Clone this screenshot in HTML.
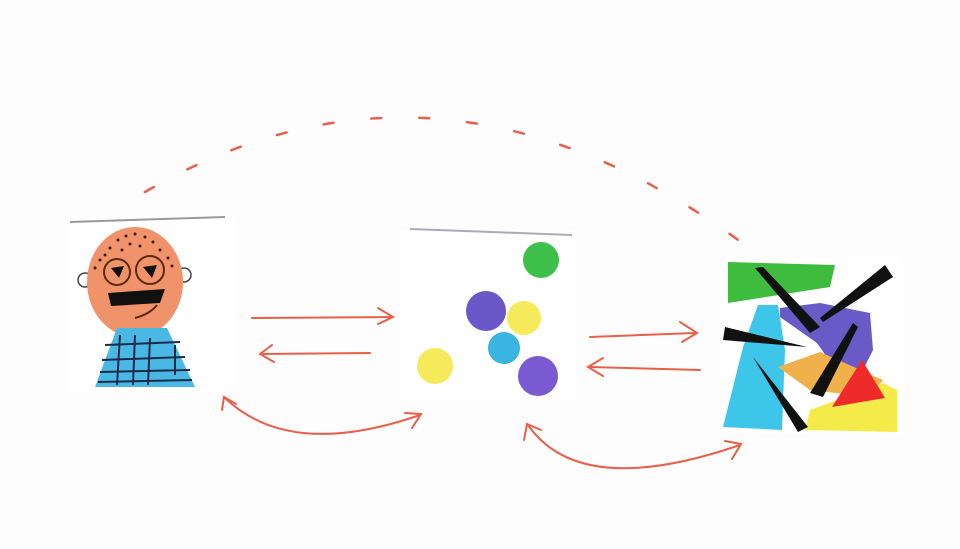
<!DOCTYPE html>
<html><head><style>html,body{margin:0;padding:0;background:#fff}svg{display:block}</style></head>
<body>
<svg width="960" height="549" viewBox="0 0 960 549" xmlns="http://www.w3.org/2000/svg">
<rect width="960" height="549" fill="#fdfdfd"/>
<!-- face card -->
<rect x="68" y="220" width="168" height="172" fill="#fff"/>
<line x1="70" y1="222" x2="225" y2="217" stroke="#999" stroke-width="2"/>
<circle cx="85" cy="280" r="7" fill="none" stroke="#444" stroke-width="1.5"/>
<circle cx="184" cy="275" r="7" fill="none" stroke="#444" stroke-width="1.5"/>
<ellipse cx="135" cy="282" rx="48" ry="55" fill="#f0936a"/>
<polygon points="117,328 167,328 195,387 95,387" fill="#4ab8e4"/>
<g stroke="#1a2a4a" stroke-width="2">
<line x1="105" y1="345" x2="180" y2="342"/><line x1="102" y1="360" x2="185" y2="357"/><line x1="100" y1="372" x2="190" y2="370"/><line x1="98" y1="382" x2="192" y2="380"/>
<line x1="120" y1="335" x2="117" y2="385"/><line x1="135" y1="335" x2="133" y2="385"/><line x1="150" y1="338" x2="148" y2="385"/><line x1="175" y1="345" x2="175" y2="375"/>
</g>
<circle cx="117" cy="272" r="13" fill="none" stroke="#5a2a10" stroke-width="2"/>
<circle cx="150" cy="270" r="14" fill="none" stroke="#5a2a10" stroke-width="2"/>
<polygon points="111,268 124,266 119,278" fill="#111"/>
<polygon points="143,267 157,265 152,278" fill="#111"/>
<polygon points="108,293 165,289 160,303 111,306" fill="#111"/>
<path d="M135,318 Q150,314 157,305" stroke="#5a2a10" stroke-width="2" fill="none"/>
<g fill="#3a1a08">
<circle cx="118" cy="240" r="1.5"/><circle cx="126" cy="236" r="1.5"/><circle cx="135" cy="234" r="1.5"/><circle cx="145" cy="237" r="1.5"/><circle cx="153" cy="242" r="1.5"/><circle cx="110" cy="248" r="1.5"/><circle cx="122" cy="250" r="1.5"/><circle cx="140" cy="246" r="1.5"/><circle cx="160" cy="250" r="1.5"/><circle cx="100" cy="260" r="1.5"/><circle cx="168" cy="258" r="1.5"/><circle cx="95" cy="268" r="1.5"/><circle cx="172" cy="266" r="1.5"/><circle cx="130" cy="244" r="1.5"/><circle cx="105" cy="255" r="1.5"/>
</g>
<!-- middle card -->
<rect x="400" y="230" width="175" height="170" fill="#fff"/>
<line x1="410" y1="229" x2="572" y2="235" stroke="#aab" stroke-width="2"/>
<circle cx="541" cy="260" r="18" fill="#3ec14a"/>
<circle cx="486" cy="311" r="20" fill="#6a58c8"/>
<circle cx="524" cy="318" r="17" fill="#f4ea5a"/>
<circle cx="504" cy="348" r="16" fill="#3ab4e0"/>
<circle cx="538" cy="376" r="20" fill="#7a5ad0"/>
<circle cx="435" cy="366" r="18" fill="#f4ea5a"/>
<!-- collage card -->
<rect x="722" y="258" width="180" height="176" fill="#fff"/>
<polygon points="728,262 835,265 830,287 728,303" fill="#3ebc3e"/>
<polygon points="758,305 778,305 785,350 782,430 723,427 743,347" fill="#3ec6ea"/>
<polygon points="780,308 820,303 870,313 873,350 863,370 843,380 817,343 780,317" fill="#6a5ac8"/>
<polygon points="778,367 820,352 883,380 870,397 810,390" fill="#f0b04a"/>
<polygon points="810,410 883,383 897,390 897,432 805,430" fill="#f4ea4a"/>
<polygon points="832,407 862,360 885,398" fill="#ee2a2a"/>
<g fill="#111">
<polygon points="755,268 763,267 820,327 810,333"/>
<polygon points="885,265 893,277 823,322 820,318"/>
<polygon points="725,327 807,347 723,340"/>
<polygon points="853,323 858,327 823,397 810,393"/>
<polygon points="753,357 808,427 798,432"/>
</g>
<!-- arrows -->
<g stroke="#e8604a" stroke-width="2" fill="none" stroke-linecap="round">
<path d="M252,318 L392,317"/><path d="M378,308 L393,317 L378,324"/>
<path d="M370,353 L262,354"/><path d="M272,345 L260,354 L274,362"/>
<path d="M590,337 L695,333"/><path d="M680,322 L697,333 L682,342"/>
<path d="M700,370 L590,367"/><path d="M603,358 L588,367 L603,376"/>
<path d="M225,398 Q290,460 420,415"/><path d="M222,410 L224,397 L236,404"/><path d="M405,413 L421,414 L412,428"/>
<path d="M528,425 Q580,500 740,445"/><path d="M524,440 L527,424 L541,430"/><path d="M725,441 L741,444 L732,459"/>
<path d="M145,192 Q440,20 745,245" stroke-dasharray="10,38" stroke-width="2.5"/>
</g>
</svg>
</body></html>
